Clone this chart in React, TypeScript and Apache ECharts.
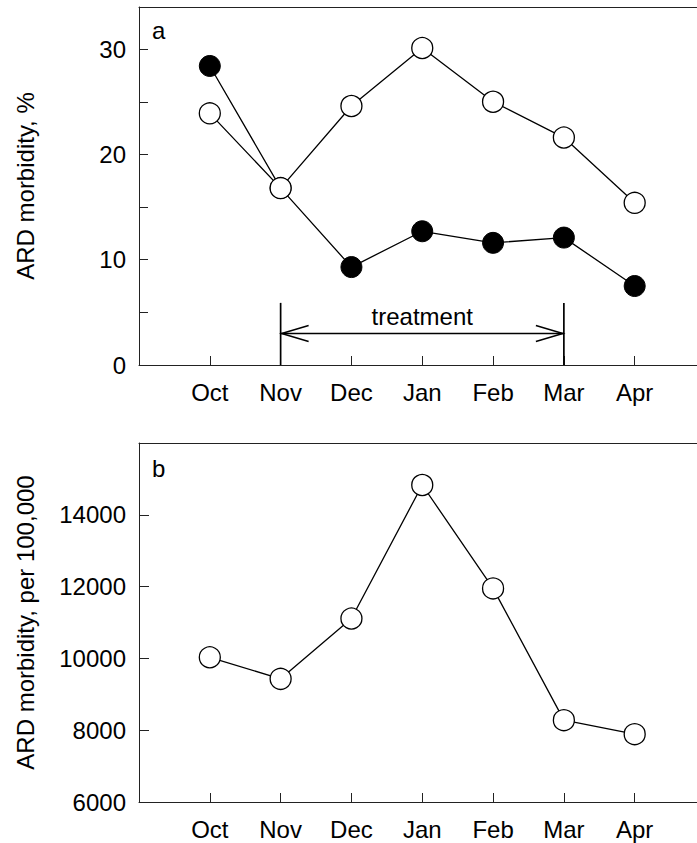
import React, { useEffect, useRef } from "react";
import * as echarts from "echarts";

const months = ["Oct", "Nov", "Dec", "Jan", "Feb", "Mar", "Apr"];
const treatedPct = [28.4, 16.8, 9.3, 12.7, 11.6, 12.1, 7.5];
const controlPct = [23.9, 16.8, 24.6, 30.1, 25.0, 21.6, 15.4];
const per100k = [10030, 9430, 11110, 14830, 11950, 8280, 7890];
const pctTickLabels = [0, 10, 20, 30];
const per100kTickLabels = [6000, 8000, 10000, 12000, 14000];
// treatment bracket, in data units: from Nov (1) to Mar (5)
const treatmentSpan = [1, 5];
const treatmentLevels = { top: 5.9, arrow: 3, label: 4.6 };
const treatmentText = "treatment";

const FONT = "'Liberation Sans', Arial, sans-serif";
const AX = "#222";
const X_MIN = -1;
const X_MAX = 6.88;

export default function App() {
  const ref = useRef<HTMLDivElement>(null);
  useEffect(() => {
    if (!ref.current) return;
    const chart = echarts.init(ref.current, null, { renderer: "svg" });
    const monthLabel = (v: number) =>
      Number.isInteger(v) && v >= 0 && v < months.length ? months[v] : "";
    const xAxisBase = (gridIndex: number) => ({
      type: "value",
      gridIndex,
      min: X_MIN,
      max: X_MAX,
      interval: 1,
      splitLine: { show: false },
      axisLine: { show: true, onZero: false, lineStyle: { color: AX, width: 1 } },
      axisTick: { show: true, inside: true, length: 9, lineStyle: { color: AX } },
      axisLabel: {
        formatter: monthLabel,
        margin: 15,
        fontSize: 24,
        fontFamily: FONT,
        color: "#000",
        showMaxLabel: false,
      },
    });
    const xAxisTop = (gridIndex: number) => ({
      type: "value",
      gridIndex,
      position: "top",
      min: X_MIN,
      max: X_MAX,
      interval: 1,
      splitLine: { show: false },
      axisLine: { show: true, onZero: false, lineStyle: { color: AX, width: 1 } },
      axisTick: { show: false },
      axisLabel: { show: false },
    });
    const option = {
      animation: false,
      backgroundColor: "#fff",
      grid: [
        { left: 139, right: 0, top: 7, bottom: 843 - 365 },
        { left: 139, right: 0, top: 443, bottom: 843 - 802 },
      ],
      xAxis: [xAxisBase(0), xAxisBase(1), xAxisTop(0), xAxisTop(1)],
      yAxis: [
        {
          type: "value",
          gridIndex: 0,
          min: 0,
          max: 34,
          interval: 5,
          splitLine: { show: false },
          axisLine: { show: true, onZero: false, lineStyle: { color: AX } },
          axisTick: { show: true, inside: true, length: 9, lineStyle: { color: AX } },
          axisLabel: {
            formatter: (v: number) => (pctTickLabels.includes(v) ? String(v) : ""),
            margin: 13,
            fontSize: 24,
            fontFamily: FONT,
            color: "#000",
          },
          name: "ARD morbidity, %",
          nameLocation: "middle",
          nameGap: 102,
          nameTextStyle: { fontSize: 24, fontFamily: FONT, color: "#000" },
        },
        {
          type: "value",
          gridIndex: 1,
          min: 6000,
          max: 16000,
          interval: 2000,
          splitLine: { show: false },
          axisLine: { show: true, onZero: false, lineStyle: { color: AX } },
          axisTick: { show: true, inside: true, length: 10, lineStyle: { color: AX } },
          axisLabel: {
            formatter: (v: number) => (per100kTickLabels.includes(v) ? String(v) : ""),
            margin: 13,
            fontSize: 24,
            fontFamily: FONT,
            color: "#000",
          },
          name: "ARD morbidity, per 100,000",
          nameLocation: "middle",
          nameGap: 102,
          nameTextStyle: { fontSize: 24, fontFamily: FONT, color: "#000" },
        },
      ],
      series: [
        {
          type: "line",
          xAxisIndex: 0,
          yAxisIndex: 0,
          data: treatedPct.map((v, i) => [i, v]),
          symbol: "circle",
          symbolSize: 21,
          z: 2,
          lineStyle: { color: "#000", width: 1.3 },
          itemStyle: { color: "#000", borderColor: "#000", borderWidth: 1 },
        },
        {
          type: "line",
          xAxisIndex: 0,
          yAxisIndex: 0,
          data: controlPct.map((v, i) => [i, v]),
          symbol: "circle",
          symbolSize: 21,
          z: 3,
          lineStyle: { color: "#000", width: 1.3 },
          itemStyle: { color: "#fff", borderColor: "#000", borderWidth: 1.3 },
        },
        {
          type: "custom",
          xAxisIndex: 0,
          yAxisIndex: 0,
          silent: true,
          z: 4,
          data: [[treatmentSpan[0], 0]],
          renderItem: (_params: any, api: any) => {
            const [x1, y0] = api.coord([treatmentSpan[0], 0]);
            const [x2] = api.coord([treatmentSpan[1], 0]);
            const [, yTop] = api.coord([treatmentSpan[0], treatmentLevels.top]);
            const [, ya] = api.coord([treatmentSpan[0], treatmentLevels.arrow]);
            const [xm, yl] = api.coord([
              (treatmentSpan[0] + treatmentSpan[1]) / 2,
              treatmentLevels.label,
            ]);
            const st = { stroke: "#000", lineWidth: 1.7, fill: "none" };
            return {
              type: "group",
              children: [
                { type: "line", shape: { x1, y1: y0, x2: x1, y2: yTop }, style: st },
                { type: "line", shape: { x1: x2, y1: y0, x2, y2: yTop }, style: st },
                { type: "line", shape: { x1, y1: ya, x2, y2: ya }, style: { ...st, lineWidth: 1.5 } },
                {
                  type: "polyline",
                  shape: { points: [[x1 + 28, ya - 8], [x1 + 1, ya], [x1 + 28, ya + 8]] },
                  style: { ...st, lineWidth: 1.5 },
                },
                {
                  type: "polyline",
                  shape: { points: [[x2 - 28, ya - 8], [x2 - 1, ya], [x2 - 28, ya + 8]] },
                  style: { ...st, lineWidth: 1.5 },
                },
                {
                  type: "text",
                  style: {
                    text: treatmentText,
                    x: xm,
                    y: yl,
                    align: "center",
                    verticalAlign: "middle",
                    fontSize: 24,
                    fontFamily: FONT,
                    fill: "#000",
                  },
                },
              ],
            };
          },
        },
        {
          type: "line",
          xAxisIndex: 1,
          yAxisIndex: 1,
          data: per100k.map((v, i) => [i, v]),
          symbol: "circle",
          symbolSize: 21,
          z: 3,
          lineStyle: { color: "#000", width: 1.3 },
          itemStyle: { color: "#fff", borderColor: "#000", borderWidth: 1.3 },
        },
      ],
      graphic: [
        {
          type: "text",
          left: 152,
          top: 18,
          style: { text: "a", fontSize: 24, fontFamily: FONT, fill: "#000" },
        },
        {
          type: "text",
          left: 152,
          top: 456,
          style: { text: "b", fontSize: 24, fontFamily: FONT, fill: "#000" },
        },
      ],
    };
    chart.setOption(option as any);
    return () => chart.dispose();
  }, []);
  return (
    <div
      ref={ref}
      style={{ position: "fixed", left: 0, top: 0, width: 697, height: 843, background: "#fff" }}
    />
  );
}
